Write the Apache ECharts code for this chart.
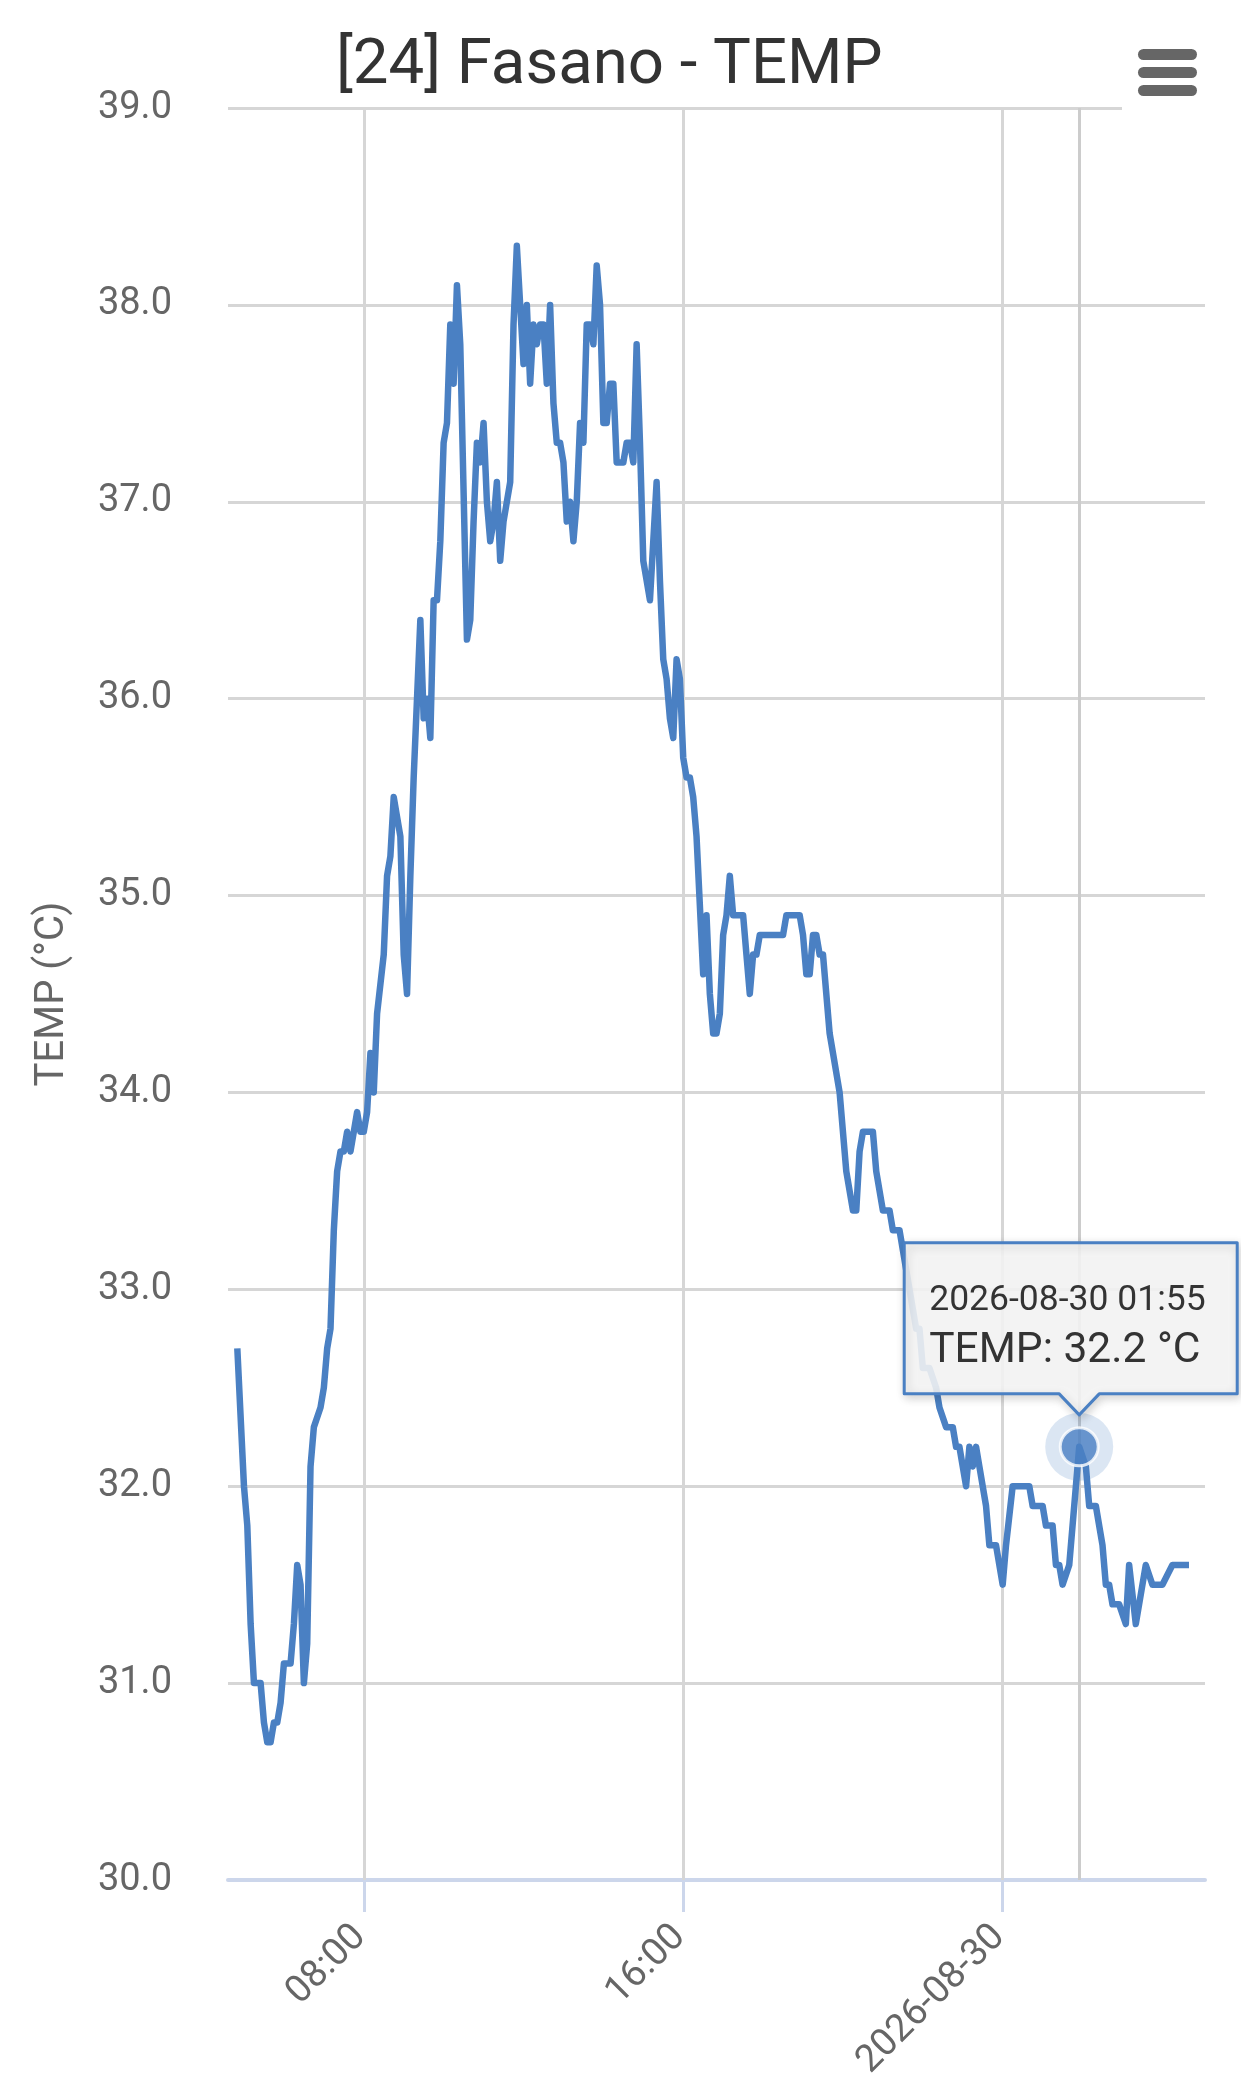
<!DOCTYPE html>
<html>
<head>
<meta charset="utf-8">
<script src="https://cdn.jsdelivr.net/npm/echarts@6/dist/echarts.min.js"></script>
<style>
html,body{margin:0;padding:0;background:#ffffff;}
#chart{width:1241px;height:2100px;}
</style>
</head>
<body>
<div id="chart"></div>
<script>
// ---------------- data ----------------
const chartTitle = '[24] Fasano - TEMP';
const seriesName = 'TEMP';
const unit = '°C';
const startDate = '2026-08-29';

const times = [
'04:50','05:00','05:05','05:10','05:15','05:25','05:30','05:35','05:40','05:45','05:50','05:55',
'06:00','06:10','06:15','06:20','06:25','06:30','06:35','06:40','06:45','06:55',
'07:00','07:05','07:10','07:15','07:20','07:25','07:30','07:35','07:40','07:50','07:55',
'08:00','08:05','08:10','08:15','08:20','08:30','08:35','08:40','08:45','08:50','08:55',
'09:00','09:05','09:10','09:15','09:20','09:25','09:30','09:35','09:40','09:45','09:50','09:55',
'10:00','10:05','10:10','10:15','10:20','10:25','10:35','10:40','10:45','10:50','10:55',
'11:00','11:05','11:10','11:15','11:20','11:25','11:30','11:35','11:40','11:45','11:50','11:55',
'12:00','12:05','12:10','12:15','12:20','12:25','12:30','12:35','12:40','12:45','12:50','12:55',
'13:00','13:05','13:10','13:15','13:20','13:25','13:30','13:35','13:40','13:45','13:50','13:55',
'14:00','14:05','14:10','14:15','14:20','14:25','14:30','14:35','14:40','14:45','14:50','14:55',
'15:00','15:05','15:10','15:15','15:20','15:25','15:30','15:35','15:40','15:45','15:50','15:55',
'16:00','16:05','16:10','16:15','16:20','16:30','16:35','16:40','16:45','16:50','16:55',
'17:00','17:05','17:10','17:15','17:30','17:35','17:40','17:45','17:50','17:55',
'18:30','18:35','18:55','19:00','19:05','19:10','19:15','19:20','19:25','19:30','19:40','19:45','19:55',
'20:05','20:15','20:20','20:25','20:30','20:45','20:50',
'21:00','21:10','21:15','21:25','21:30','21:40','21:50','21:55',
'22:00','22:10','22:20','22:25','22:35','22:45','22:50','22:55',
'23:05','23:10','23:15','23:20','23:25','23:30','23:35','23:40','23:50',
'00:00','00:05','00:15','00:40','00:45',
'01:00','01:05','01:15','01:20','01:25','01:30','01:40','01:55',
'02:05','02:10','02:20','02:25','02:30','02:35','02:40','02:45','02:55',
'03:05','03:10','03:20','03:35','03:45',
'04:00','04:15','04:40'
];

const temps = [
32.7,32.0,31.8,31.3,31.0,31.0,30.8,30.7,30.7,30.8,30.8,30.9,
31.1,31.1,31.3,31.6,31.5,31.0,31.2,32.1,32.3,32.4,
32.5,32.7,32.8,33.3,33.6,33.7,33.7,33.8,33.7,33.9,33.8,
33.8,33.9,34.2,34.0,34.4,34.7,35.1,35.2,35.5,35.4,35.3,
34.7,34.5,35.1,35.6,36.0,36.4,35.9,36.0,35.8,36.5,36.5,36.8,
37.3,37.4,37.9,37.6,38.1,37.8,36.3,36.4,36.9,37.3,37.2,
37.4,37.0,36.8,36.9,37.1,36.7,36.9,37.0,37.1,37.9,38.3,38.0,
37.7,38.0,37.6,37.9,37.8,37.9,37.9,37.6,38.0,37.5,37.3,37.3,
37.2,36.9,37.0,36.8,37.0,37.4,37.3,37.9,37.9,37.8,38.2,38.0,
37.4,37.4,37.6,37.6,37.2,37.2,37.2,37.3,37.3,37.2,37.8,37.3,
36.7,36.6,36.5,36.8,37.1,36.6,36.2,36.1,35.9,35.8,36.2,36.1,
35.7,35.6,35.6,35.5,35.3,34.6,34.9,34.5,34.3,34.3,34.4,
34.8,34.9,35.1,34.9,34.9,34.7,34.5,34.7,34.7,34.8,
34.8,34.9,34.9,34.8,34.6,34.6,34.8,34.8,34.7,34.7,34.3,34.2,34.0,
33.6,33.4,33.4,33.7,33.8,33.8,33.6,
33.4,33.4,33.3,33.3,33.2,33.0,32.8,32.8,
32.6,32.6,32.5,32.4,32.3,32.3,32.2,32.2,
32.0,32.2,32.1,32.2,32.1,32.0,31.9,31.7,31.7,
31.5,31.7,32.0,32.0,31.9,
31.9,31.8,31.8,31.6,31.6,31.5,31.6,32.2,
32.1,31.9,31.9,31.8,31.7,31.5,31.5,31.4,31.4,
31.3,31.6,31.3,31.6,31.5,
31.5,31.6,31.6
];

const xRange = ['2026-08-29 04:36', '2026-08-30 05:04'];
const xTickTimes = ['2026-08-29 08:00', '2026-08-29 16:00', '2026-08-30 00:00'];
const yMin = 30, yMax = 39, yStep = 1;
const highlightTime = '2026-08-30 01:55';

// ---------------- helpers ----------------
const LINE = '#4a80c3';
const GRID = '#d6d6d6';
const FONT = 'Roboto';
const pad = n => String(n).padStart(2, '0');

function parseStamp(s) {
  const [d, t] = s.split(' ');
  const [y, mo, da] = d.split('-').map(Number);
  const [h, mi] = t.split(':').map(Number);
  return new Date(y, mo - 1, da, h, mi).getTime();
}
function fmtTick(v) {
  const d = new Date(v);
  if (d.getHours() === 0 && d.getMinutes() === 0) {
    return d.getFullYear() + '-' + pad(d.getMonth() + 1) + '-' + pad(d.getDate());
  }
  return pad(d.getHours()) + ':' + pad(d.getMinutes());
}
function fmtFull(v) {
  const d = new Date(v);
  return d.getFullYear() + '-' + pad(d.getMonth() + 1) + '-' + pad(d.getDate()) + ' ' +
    pad(d.getHours()) + ':' + pad(d.getMinutes());
}

// build timestamps (day rolls over when clock goes backwards)
const stamps = [];
{
  let day = 0, prev = -1;
  const [y, mo, da] = startDate.split('-').map(Number);
  times.forEach(t => {
    const [h, mi] = t.split(':').map(Number);
    const mins = h * 60 + mi;
    if (mins < prev) day += 1;
    prev = mins;
    stamps.push(new Date(y, mo - 1, da + day, h, mi).getTime());
  });
}
const lineData = stamps.map((s, i) => [s, temps[i]]);
const hiStamp = parseStamp(highlightTime);
const hiIndex = stamps.indexOf(hiStamp);
const hiVal = temps[hiIndex];
const xTickStamps = xTickTimes.map(parseStamp);

// ---------------- chart ----------------
const chart = echarts.init(document.getElementById('chart'), null, {renderer: 'canvas'});

const option = {
  animation: false,
  backgroundColor: '#ffffff',
  textStyle: {fontFamily: FONT},
  title: {
    text: chartTitle,
    left: 331,
    top: 31,
    textStyle: {fontSize: 63.5, fontWeight: 'normal', color: '#333333', fontFamily: FONT, lineHeight: 63}
  },
  grid: {left: 228, right: 36, top: 108, bottom: 220, containLabel: false},
  xAxis: {
    type: 'value',
    min: parseStamp(xRange[0]),
    max: parseStamp(xRange[1]),
    axisLine: {show: true, onZero: false, lineStyle: {color: '#ccd6eb', width: 4}},
    axisTick: {show: true, length: 32, customValues: xTickStamps, lineStyle: {color: '#ccd6eb', width: 3}},
    axisLabel: {
      customValues: xTickStamps,
      formatter: fmtTick,
      rotate: 45,
      margin: 48,
      padding: [0, 5, 0, 0],
      fontSize: 38,
      color: '#666666',
      fontFamily: FONT
    },
    splitLine: {show: false}
  },
  yAxis: {
    type: 'value',
    min: yMin,
    max: yMax,
    interval: yStep,
    axisLine: {show: false},
    axisTick: {show: false},
    axisLabel: {formatter: v => v.toFixed(1), fontSize: 38, color: '#666666', margin: 56, padding: [6, 0, 0, 0], fontFamily: FONT},
    splitLine: {show: true, showMinLine: false, lineStyle: {color: GRID, width: 3}},
    name: seriesName + ' (' + unit + ')',
    nameLocation: 'middle',
    nameRotate: 90,
    nameGap: 155,
    nameTextStyle: {fontSize: 40, color: '#666666', fontFamily: FONT}
  },
  series: [
    {
      type: 'line',
      name: seriesName,
      data: lineData,
      showSymbol: false,
      symbol: 'none',
      smooth: false,
      z: 3,
      lineStyle: {color: LINE, width: 6.5, join: 'round'},
      itemStyle: {color: LINE},
      emphasis: {disabled: true},
      markLine: {
        silent: true,
        symbol: ['none', 'none'],
        label: {show: false},
        lineStyle: {color: GRID, width: 3, type: 'solid'},
        emphasis: {disabled: true},
        animation: false,
        z: 1,
        data: xTickStamps.map(s => ({xAxis: s})).concat([{xAxis: hiStamp, lineStyle: {color: '#cccccc', width: 3, type: 'solid'}}])
      }
    },
    {
      type: 'scatter',
      data: [[hiStamp, hiVal]],
      symbolSize: 68,
      silent: true,
      z: 4,
      itemStyle: {color: 'rgba(74,128,195,0.25)'},
      emphasis: {disabled: true}
    },
    {
      type: 'scatter',
      data: [[hiStamp, hiVal]],
      symbolSize: 38,
      silent: true,
      z: 5,
      itemStyle: {color: LINE, borderColor: '#ffffff', borderWidth: 3},
      emphasis: {disabled: true}
    }
  ]
};
chart.setOption(option);

// tooltip-like callout anchored at the highlighted point (position via the chart's own scales)
const P = chart.convertToPixel({xAxisIndex: 0, yAxisIndex: 0}, [hiStamp, hiVal]);
const L = P[0] - 175, R = P[0] + 158, T = P[1] - 204, B = P[1] - 53;
const tipY = P[1] - 32;

chart.setOption({
  graphic: {
    elements: [
      // export-menu button
      {type: 'rect', silent: true, z: 100, shape: {x: 1122, y: 28, width: 92, height: 86}, style: {fill: '#ffffff'}},
      {type: 'rect', silent: true, z: 101, shape: {x: 1138, y: 49, width: 59, height: 11, r: 5.5}, style: {fill: '#666666'}},
      {type: 'rect', silent: true, z: 101, shape: {x: 1138, y: 67, width: 59, height: 11, r: 5.5}, style: {fill: '#666666'}},
      {type: 'rect', silent: true, z: 101, shape: {x: 1138, y: 85, width: 59, height: 11, r: 5.5}, style: {fill: '#666666'}},
      // tooltip box with arrow
      {
        type: 'polygon', silent: true, z: 110,
        shape: {points: [[L, T], [R, T], [R, B], [P[0] + 20, B], [P[0], tipY], [P[0] - 20, B], [L, B]]},
        style: {
          fill: 'rgba(247,247,247,0.88)', stroke: LINE, lineWidth: 3, lineJoin: 'round',
          shadowBlur: 10, shadowOffsetX: 2, shadowOffsetY: 3, shadowColor: 'rgba(0,0,0,0.18)'
        }
      },
      {
        type: 'text', silent: true, z: 111,
        style: {text: fmtFull(hiStamp), x: L + 25, y: P[1] - 146, fill: '#333333',
          fontSize: 35.5, fontFamily: FONT, align: 'left', verticalAlign: 'middle'}
      },
      {
        type: 'text', silent: true, z: 111,
        style: {text: seriesName + ': ' + hiVal.toFixed(1) + ' ' + unit, x: L + 25, y: P[1] - 95, fill: '#333333',
          fontSize: 42.5, fontFamily: FONT, align: 'left', verticalAlign: 'middle'}
      }
    ]
  }
});
</script>
</body>
</html>
